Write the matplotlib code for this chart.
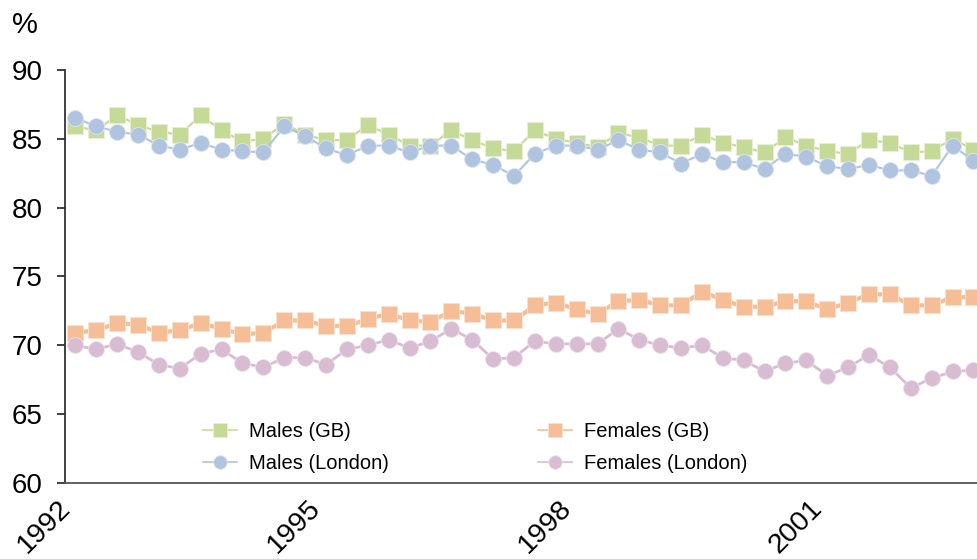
import matplotlib
matplotlib.use("Agg")
import matplotlib.pyplot as plt

# quarterly values, 1992 Q1 .. 2002 Q4
quarters = list(range(44))
tick_pos = [0, 12, 24, 36]
tick_labels = ["1992", "1995", "1998", "2001"]

males_gb = [85.9, 85.6, 86.7, 86.0, 85.5, 85.3, 86.7, 85.6, 84.8, 85.0,
            86.1, 85.3, 84.9, 84.9, 86.0, 85.3, 84.5, 84.5, 85.6, 84.9,
            84.3, 84.1, 85.6, 85.0, 84.7, 84.4, 85.4, 85.1, 84.5, 84.5,
            85.3, 84.7, 84.4, 84.0, 85.1, 84.5, 84.1, 83.9, 84.9, 84.7,
            84.0, 84.1, 85.0, 84.2]
males_london = [86.5, 85.9, 85.5, 85.3, 84.5, 84.2, 84.7, 84.2, 84.1, 84.0,
                85.9, 85.2, 84.3, 83.8, 84.5, 84.5, 84.0, 84.5, 84.5, 83.5,
                83.1, 82.3, 83.9, 84.5, 84.5, 84.2, 84.9, 84.2, 84.0, 83.2,
                83.9, 83.3, 83.3, 82.8, 83.9, 83.7, 83.0, 82.8, 83.1, 82.7,
                82.7, 82.3, 84.5, 83.4]
females_gb = [70.9, 71.1, 71.6, 71.5, 70.9, 71.1, 71.6, 71.2, 70.8, 70.9,
              71.8, 71.8, 71.4, 71.4, 71.9, 72.3, 71.8, 71.7, 72.5, 72.3,
              71.8, 71.8, 72.9, 73.1, 72.6, 72.3, 73.2, 73.3, 72.9, 72.9,
              73.9, 73.3, 72.8, 72.8, 73.2, 73.2, 72.6, 73.1, 73.7, 73.7,
              72.9, 72.9, 73.5, 73.5]
females_london = [70.0, 69.7, 70.1, 69.5, 68.6, 68.3, 69.4, 69.7, 68.7, 68.4,
                  69.1, 69.1, 68.6, 69.7, 70.0, 70.4, 69.8, 70.3, 71.2, 70.4,
                  69.0, 69.1, 70.3, 70.1, 70.1, 70.1, 71.2, 70.4, 70.0, 69.8,
                  70.0, 69.1, 68.9, 68.1, 68.7, 68.9, 67.8, 68.4, 69.3, 68.4,
                  66.9, 67.6, 68.1, 68.2]

plt.rcParams["font.family"] = ["Liberation Sans", "DejaVu Sans"]

fig = plt.figure(figsize=(9.77, 5.59), dpi=100)
ax = fig.add_axes([0.0665, 0.136, 0.9335, 0.739])

ax.plot(quarters, males_gb, marker="s", ms=11.5, lw=1.5, color="#c6da98",
        mec="#e8f0d4", mew=0.6, label="Males (GB)")
ax.plot(quarters, females_gb, marker="s", ms=11.5, lw=3, color="#f5be96",
        mec="#fbe2d0", mew=0.6, label="Females (GB)")
ax.plot(quarters, males_london, marker="o", ms=11.5, lw=1.5, color="#b0c4e0",
        mec="#dde6f2", mew=0.6, label="Males (London)")
ax.plot(quarters, females_london, marker="o", ms=11.5, lw=2, color="#d7bcd2",
        mec="#efe2ec", mew=0.6, label="Females (London)")

ax.set_xlim(-0.5, 43.17)
ax.set_ylim(60, 90)
ax.set_yticks([60, 65, 70, 75, 80, 85, 90])
ax.set_xticks(tick_pos)
ax.set_xticklabels(tick_labels, rotation=45, ha="right", fontsize=20.5)
ax.tick_params(axis="y", labelsize=20, length=6, width=1.3, pad=10,
               color="#333333")
ax.tick_params(axis="x", length=0, pad=9)

for s in ["top", "right"]:
    ax.spines[s].set_visible(False)
ax.spines["left"].set_color("#333333")
ax.spines["left"].set_linewidth(1.3)
ax.spines["bottom"].set_color("#555555")
ax.spines["bottom"].set_linewidth(1.3)

handles, labels = ax.get_legend_handles_labels()
order = [0, 2, 1, 3]
leg = ax.legend([handles[i] for i in order], [labels[i] for i in order],
                ncol=2, loc="center", bbox_to_anchor=(0.45, 0.085),
                frameon=False, fontsize=14.5, markerscale=0.85,
                handlelength=1.7, handletextpad=0.6, columnspacing=7.4,
                labelspacing=0.65, borderpad=0)
for line in leg.get_lines():
    line.set_linewidth(1.2)

fig.text(0.026, 0.955, "%", fontsize=21, ha="center", va="center")

fig.savefig("out.png", dpi=100)
